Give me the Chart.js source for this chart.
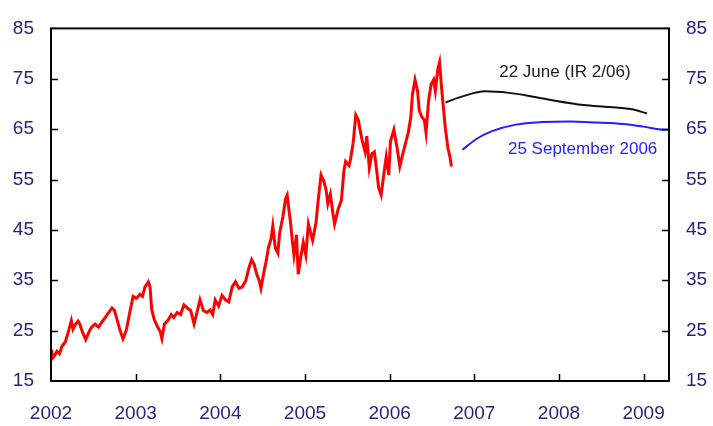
<!DOCTYPE html>
<html>
<head>
<meta charset="utf-8">
<script src="https://cdn.jsdelivr.net/npm/chart.js@4.4.1/dist/chart.umd.min.js"></script>
<style>
html,body{margin:0;padding:0;background:#fff;}
#wrap{width:713px;height:426px;}
</style>
</head>
<body>
<div id="wrap"><canvas id="c" width="713" height="426"></canvas></div>
<script>
// Oil price history (decimal year, US$/bbl)
const oilYears = [2002.00,2002.01,2002.04,2002.07,2002.10,2002.13,2002.17,2002.21,2002.24,2002.26,2002.29,2002.32,2002.34,2002.37,2002.41,2002.45,2002.48,2002.52,2002.56,2002.60,2002.64,2002.68,2002.72,2002.75,2002.78,2002.82,2002.85,2002.89,2002.93,2002.97,2003.01,2003.05,2003.08,2003.11,2003.15,2003.17,2003.19,2003.22,2003.26,2003.29,2003.31,2003.34,2003.38,2003.42,2003.45,2003.49,2003.53,2003.57,2003.61,2003.65,2003.69,2003.73,2003.76,2003.80,2003.84,2003.88,2003.91,2003.94,2003.98,2004.02,2004.06,2004.10,2004.14,2004.18,2004.22,2004.26,2004.30,2004.34,2004.37,2004.40,2004.43,2004.46,2004.48,2004.51,2004.54,2004.57,2004.60,2004.62,2004.65,2004.68,2004.70,2004.74,2004.77,2004.79,2004.81,2004.83,2004.85,2004.87,2004.90,2004.92,2004.95,2004.98,2005.01,2005.04,2005.09,2005.13,2005.16,2005.19,2005.22,2005.25,2005.27,2005.30,2005.33,2005.35,2005.39,2005.43,2005.46,2005.48,2005.52,2005.54,2005.57,2005.60,2005.63,2005.65,2005.68,2005.71,2005.73,2005.76,2005.79,2005.82,2005.84,2005.87,2005.90,2005.93,2005.96,2005.99,2006.01,2006.05,2006.09,2006.12,2006.15,2006.19,2006.22,2006.25,2006.27,2006.30,2006.33,2006.35,2006.38,2006.41,2006.43,2006.46,2006.49,2006.52,2006.54,2006.57,2006.59,2006.61,2006.63,2006.66,2006.69,2006.71,2006.73];
const oilPrices = [21.2,19.4,20.0,20.9,20.4,21.9,22.8,25.1,27.0,25.3,26.3,26.9,26.3,24.8,23.2,24.8,25.7,26.3,25.7,26.7,27.6,28.6,29.5,29.0,27.2,24.8,23.4,25.1,28.6,31.8,31.4,32.2,31.8,33.7,34.7,33.7,29.1,27.2,25.7,24.8,23.4,26.3,27.0,28.2,27.6,28.6,28.2,30.1,29.5,29.0,26.3,29.0,31.1,29.0,28.6,29.1,28.2,31.1,29.9,32.0,31.1,30.7,33.7,34.7,33.4,33.7,34.9,37.6,39.1,38.1,36.2,34.9,33.4,36.2,38.7,41.6,43.3,45.8,41.4,40.4,44.3,47.7,51.1,51.9,49.0,46.4,42.9,40.0,44.0,36.2,39.5,42.5,40.0,46.2,42.9,46.4,51.5,55.9,54.8,52.9,50.2,52.1,48.3,46.2,49.0,50.9,56.7,58.6,57.8,59.2,62.4,67.8,66.8,64.9,62.4,60.5,63.6,57.3,60.1,60.5,57.8,53.4,51.9,55.9,59.5,55.9,62.6,64.9,61.1,57.6,59.7,62.4,64.3,67.4,72.0,74.8,72.6,68.7,67.4,66.8,64.3,70.6,73.9,74.8,72.6,77.0,78.3,73.9,70.1,64.9,61.1,59.7,57.6];

// Futures curve, 22 June (IR 2/06)
const juneYears = [2006.66,2006.86,2007.13,2007.41,2007.65,2007.97,2008.29,2008.60,2008.88,2009.04];
const juneValues = [70.3,71.5,72.5,72.2,71.6,70.6,69.8,69.4,68.9,68.1];

// Futures curve, 25 September 2006
const septYears = [2006.86,2007.02,2007.21,2007.49,2007.81,2008.13,2008.44,2008.76,2009.00,2009.24,2009.30];
const septValues = [60.9,63.0,64.6,65.9,66.4,66.5,66.3,66.0,65.5,64.9,64.9];

const xTickYears = [2002,2003,2004,2005,2006,2007,2008,2009];
const yTickValues = [15,25,35,45,55,65,75,85];

const labelJune = '22 June (IR 2/06)';
const labelSept = '25 September 2006';

const FONT = '"Liberation Sans", Arial, sans-serif';
const TICK_COLOR = '#25257f';

function pts(xs, ys){ return xs.map((x,i)=>({x:x,y:ys[i]})); }

const framePlugin = {
  id:'frame',
  afterDatasetsDraw(chart){
    const {ctx, chartArea:a, scales} = chart;
    ctx.save();
    ctx.strokeStyle = '#000';
    ctx.lineWidth = 2;
    ctx.strokeRect(a.left, a.top, a.right-a.left, a.bottom-a.top);
    ctx.lineWidth = 1.5;
    ctx.beginPath();
    yTickValues.forEach(v=>{
      if (v===15 || v===85) return;
      const y = Math.round(scales.y.getPixelForValue(v))+0.5;
      ctx.moveTo(a.left, y); ctx.lineTo(a.left+7, y);
      ctx.moveTo(a.right, y); ctx.lineTo(a.right-7, y);
    });
    xTickYears.forEach(v=>{
      if (v===2002) return;
      const x = Math.round(scales.x.getPixelForValue(v))+0.5;
      ctx.moveTo(x, a.bottom); ctx.lineTo(x, a.bottom-7);
    });
    ctx.stroke();
    // annotations
    ctx.font = '17px ' + FONT;
    ctx.textAlign = 'center';
    ctx.textBaseline = 'middle';
    ctx.fillStyle = '#1a1a1a';
    ctx.fillText(labelJune, scales.x.getPixelForValue(2008.07), scales.y.getPixelForValue(76.2));
    ctx.fillStyle = '#1f1fff';
    ctx.fillText(labelSept, scales.x.getPixelForValue(2008.28), scales.y.getPixelForValue(60.9));
    ctx.restore();
  }
};

const yTicksCommon = {
  color: TICK_COLOR,
  font: {family: FONT, size: 19},
  stepSize: 10,
  padding: 17,
  callback: v => String(v)
};

new Chart(document.getElementById('c'), {
  type: 'line',
  data: {
    datasets: [
      {data: pts(oilYears, oilPrices), borderColor:'#ff0000', borderWidth:3, pointRadius:0, tension:0, yAxisID:'y'},
      {data: pts(juneYears, juneValues), borderColor:'#111111', borderWidth:2, pointRadius:0, tension:0.4, cubicInterpolationMode:'monotone', yAxisID:'y'},
      {data: pts(septYears, septValues), borderColor:'#1f1fff', borderWidth:2, pointRadius:0, tension:0.4, cubicInterpolationMode:'monotone', yAxisID:'y'}
    ]
  },
  options: {
    responsive:false,
    animation:false,
    devicePixelRatio:1,
    layout:{padding:{top:15,left:0,right:0,bottom:0}},
    plugins:{legend:{display:false}, tooltip:{enabled:false}},
    scales:{
      x:{
        type:'linear', min:2002, max:2009.3,
        grid:{display:false, drawTicks:false}, border:{display:false},
        afterBuildTicks: s => { s.ticks = xTickYears.map(v=>({value:v})); },
        ticks:{color:TICK_COLOR, font:{family:FONT,size:19}, padding:21, maxRotation:0, autoSkip:false, callback:v=>String(v)},
        afterFit: s => { s.height = 45; }
      },
      y:{
        position:'left', min:15, max:85,
        grid:{display:false, drawTicks:false}, border:{display:false},
        afterBuildTicks: s => { s.ticks = yTickValues.map(v=>({value:v})); },
        ticks: yTicksCommon,
        afterFit: s => { s.width = 51; }
      },
      y2:{
        position:'right', min:15, max:85, display:true,
        grid:{display:false, drawTicks:false}, border:{display:false},
        afterBuildTicks: s => { s.ticks = yTickValues.map(v=>({value:v})); },
        ticks: yTicksCommon,
        afterFit: s => { s.width = 44; }
      }
    }
  },
  plugins:[framePlugin]
});
</script>
</body>
</html>
